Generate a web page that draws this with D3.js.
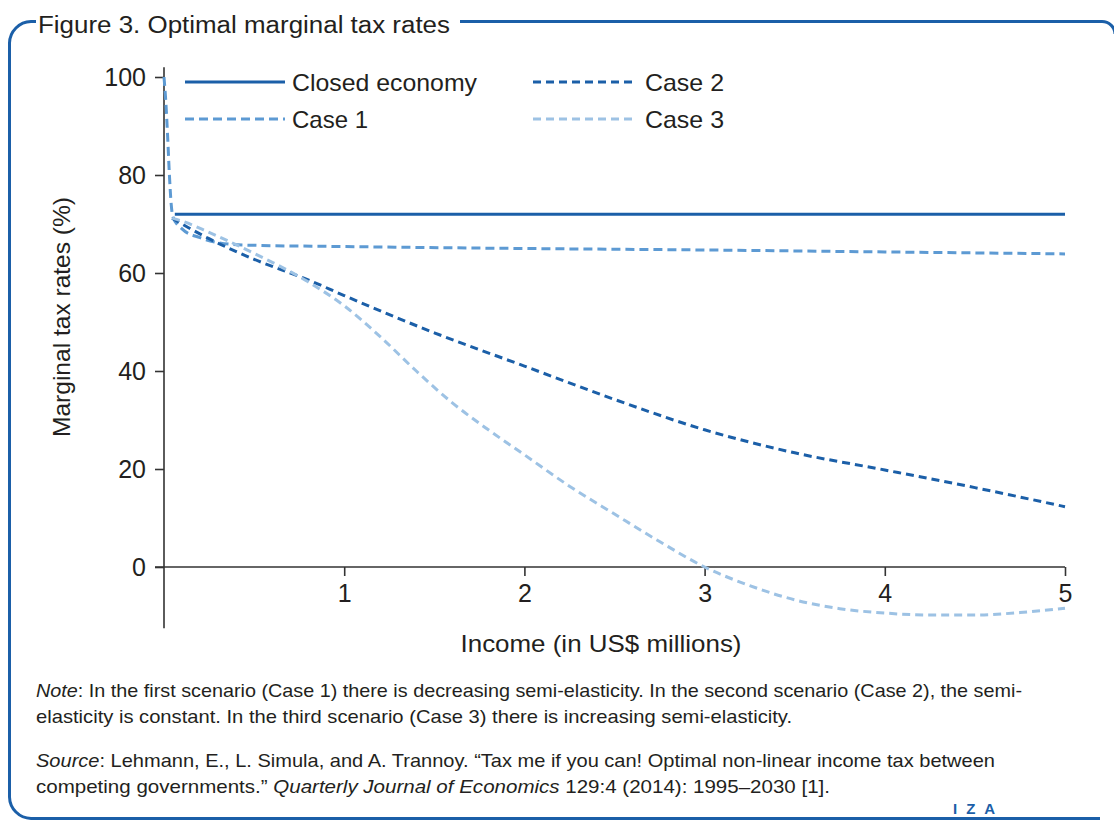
<!DOCTYPE html>
<html>
<head>
<meta charset="utf-8">
<script src="https://cdn.jsdelivr.net/npm/d3@7"></script>
<style>
body { margin: 0; background: #fff; }
svg text { font-family: "Liberation Sans", Arial, sans-serif; fill: #231f20; }
</style>
</head>
<body>
<svg width="1114" height="820"></svg>
<script>
// data
var seriesNames = ["Closed economy", "Case 1", "Case 2", "Case 3"];
var closedX = [0.06, 5];
var closedY = [72, 72];
var case1X = [0, 0.01, 0.02, 0.03, 0.04, 0.05, 0.1, 0.2, 0.3, 0.45, 1, 2, 3, 4, 5];
var case1Y = [100, 95, 88, 80, 74, 71.4, 69, 67.2, 66.2, 65.7, 65.4, 65.0, 64.7, 64.3, 63.9];
var case2X = [0.045, 0.1, 0.25, 0.5, 0.8, 1, 1.5, 2, 2.5, 3, 3.5, 4, 4.5, 5];
var case2Y = [71.2, 70, 67, 62.8, 58.6, 55.4, 47.8, 41, 34.2, 28, 23.3, 19.8, 16.2, 12.3];
var case3X = [0.045, 0.1, 0.25, 0.5, 0.8, 1, 1.2, 1.4, 1.6, 1.8, 2, 2.25, 2.5, 2.75, 3, 3.25, 3.5, 3.75, 4, 4.25, 4.5, 4.75, 5];
var case3Y = [71.2, 70.6, 68.3, 64, 58.2, 53.3, 47, 40, 33.5, 28, 22.9, 16.5, 10.8, 5.2, 0, -3.8, -6.7, -8.5, -9.4, -9.8, -9.8, -9.3, -8.4];
var xTicks = [1, 2, 3, 4, 5];
var yTicks = [0, 20, 40, 60, 80, 100];

var svg = d3.select("svg");

// frame
var blue = "#1b5fa8";
svg.append("path")
    .attr("d", "M36,21.5 H31 A22,22 0 0 0 9.5,43 V797 A22,22 0 0 0 31,818.5 H1100 M460,21.5 H1102 A13,13 0 0 1 1115,34")
    .attr("fill", "none")
    .attr("stroke", blue)
    .attr("stroke-width", 3);

svg.append("text")
    .attr("x", 38)
    .attr("y", 33)
    .attr("font-size", 23)
    .attr("textLength", 412)
    .attr("lengthAdjust", "spacingAndGlyphs")
    .text("Figure 3. Optimal marginal tax rates");

var x = d3.scaleLinear().domain([0, 5]).range([164, 1065]);
var y = d3.scaleLinear().domain([0, 100]).range([567, 77]);

// axes
var xAxis = svg.append("g")
    .attr("transform", "translate(0," + y(0) + ")")
    .call(d3.axisBottom(x).tickValues(xTicks).tickSize(9).tickPadding(5).tickFormat(d3.format("d")));
xAxis.select(".domain").remove();
xAxis.append("line")
    .attr("x1", x(-0.05)).attr("x2", x(5))
    .attr("stroke", "#333").attr("stroke-width", 1.6);

var yAxis = svg.append("g")
    .attr("transform", "translate(" + x(0) + ",0)")
    .call(d3.axisLeft(y).tickValues(yTicks).tickSize(9).tickPadding(9));
yAxis.select(".domain").remove();
yAxis.append("line")
    .attr("y1", y(102)).attr("y2", y(-12.5))
    .attr("stroke", "#333").attr("stroke-width", 1.6);

svg.selectAll(".tick line").attr("stroke", "#333").attr("stroke-width", 1.6);
svg.selectAll(".tick text").attr("font-size", 25).attr("fill", "#231f20")
    .attr("font-family", "Liberation Sans, Arial, sans-serif");
xAxis.selectAll(".tick text").attr("dy", "0.85em");

svg.append("text")
    .attr("transform", "translate(70,317) rotate(-90)")
    .attr("text-anchor", "middle")
    .attr("font-size", 24)
    .attr("textLength", 240)
    .attr("lengthAdjust", "spacingAndGlyphs")
    .text("Marginal tax rates (%)");

svg.append("text")
    .attr("x", 601)
    .attr("y", 652)
    .attr("text-anchor", "middle")
    .attr("font-size", 24)
    .attr("textLength", 281)
    .attr("lengthAdjust", "spacingAndGlyphs")
    .text("Income (in US$ millions)");

// lines
var series = [
    { name: seriesNames[0], xs: closedX, ys: closedY, color: "#1b5fa8", dash: null },
    { name: seriesNames[1], xs: case1X, ys: case1Y, color: "#5d9ad3", dash: "9,5" },
    { name: seriesNames[2], xs: case2X, ys: case2Y, color: "#1b5fa8", dash: "8,5" },
    { name: seriesNames[3], xs: case3X, ys: case3Y, color: "#9dc2e4", dash: "8,5" }
];

var line = d3.line()
    .x(function(d) { return x(d[0]); })
    .y(function(d) { return y(d[1]); })
    .curve(d3.curveMonotoneX);

series.forEach(function(s) {
    var pts = s.xs.map(function(v, i) { return [v, s.ys[i]]; });
    svg.append("path")
        .datum(pts)
        .attr("d", line)
        .attr("fill", "none")
        .attr("stroke", s.color)
        .attr("stroke-width", 3)
        .attr("stroke-dasharray", s.dash);
});

// legend
var legendPos = [[185, 82], [185, 119], [533, 82], [533, 119]];
var legendWidths = [185, 76, 79, 79];
series.forEach(function(s, i) {
    var p = legendPos[i];
    svg.append("line")
        .attr("x1", p[0]).attr("x2", p[0] + 100)
        .attr("y1", p[1]).attr("y2", p[1])
        .attr("stroke", s.color)
        .attr("stroke-width", 3)
        .attr("stroke-dasharray", s.dash);
    svg.append("text")
        .attr("x", p[0] + (i < 2 ? 107 : 112))
        .attr("y", p[1] + 9)
        .attr("font-size", 24)
        .attr("textLength", legendWidths[i])
        .attr("lengthAdjust", "spacingAndGlyphs")
        .text(s.name);
});

// notes
var notes = svg.append("g").attr("font-size", 18.5);
var n1 = notes.append("text").attr("x", 36).attr("y", 697)
    .attr("textLength", 986).attr("lengthAdjust", "spacingAndGlyphs");
n1.append("tspan").attr("font-style", "italic").text("Note");
n1.append("tspan").text(": In the first scenario (Case 1) there is decreasing semi-elasticity. In the second scenario (Case 2), the semi-");
notes.append("text").attr("x", 36).attr("y", 723)
    .attr("textLength", 756).attr("lengthAdjust", "spacingAndGlyphs")
    .text("elasticity is constant. In the third scenario (Case 3) there is increasing semi-elasticity.");
var s1 = notes.append("text").attr("x", 36).attr("y", 767)
    .attr("textLength", 959).attr("lengthAdjust", "spacingAndGlyphs");
s1.append("tspan").attr("font-style", "italic").text("Source");
s1.append("tspan").text(": Lehmann, E., L. Simula, and A. Trannoy. \u201CTax me if you can! Optimal non-linear income tax between");
var s2 = notes.append("text").attr("x", 36).attr("y", 793)
    .attr("textLength", 794).attr("lengthAdjust", "spacingAndGlyphs");
s2.append("tspan").text("competing governments.\u201D ");
s2.append("tspan").attr("font-style", "italic").text("Quarterly Journal of Economics");
s2.append("tspan").text(" 129:4 (2014): 1995\u20132030 [1].");

svg.append("text")
    .attr("x", 953)
    .attr("y", 814)
    .attr("font-size", 15)
    .attr("font-weight", "bold")
    .attr("letter-spacing", 9)
    .style("fill", blue)
    .text("IZA");
</script>
</body>
</html>
